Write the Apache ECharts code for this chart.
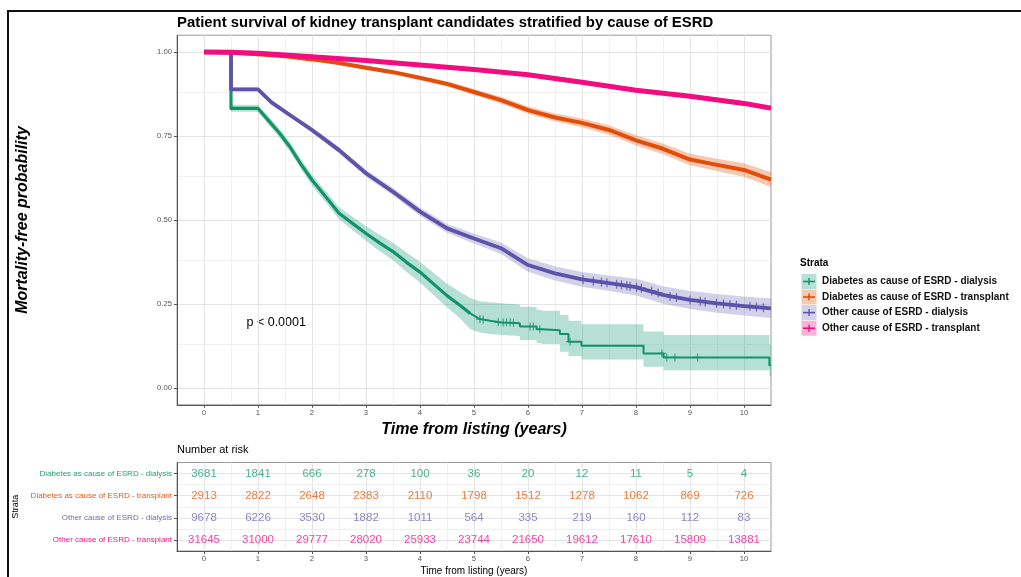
<!DOCTYPE html>
<html><head><meta charset="utf-8">
<script src="https://cdn.jsdelivr.net/npm/echarts@6/dist/echarts.min.js"></script>
<style>html,body{margin:0;padding:0;background:#fff}#c{width:1021px;height:577px}</style>
</head><body><div id="c"></div>
<script>
// ---------------- data ----------------
const strata = ['Diabetes as cause of ESRD - dialysis','Diabetes as cause of ESRD - transplant','Other cause of ESRD - dialysis','Other cause of ESRD - transplant'];
const years = [0,1,2,3,4,5,6,7,8,9,10];
const survTicks = [0,0.25,0.5,0.75,1];

// Diabetes - dialysis
const tDD  = [0,0.5,0.5,1.0,1.2,1.4,1.59,1.8,2.0,2.25,2.5,2.75,3.0,3.25,3.5,3.75,4.0,4.25,4.5,4.75,4.93,5.11,5.3,5.5,5.85,5.85,6.16,6.16,6.25,6.25,6.59,6.59,6.75,6.75,6.99,6.99,8.14,8.14,8.51,8.51,10.47,10.47,10.5];
const sDD  = [1,1,0.832,0.832,0.795,0.758,0.718,0.665,0.619,0.57,0.52,0.49,0.46,0.432,0.406,0.374,0.345,0.31,0.275,0.245,0.222,0.205,0.2,0.195,0.193,0.183,0.183,0.175,0.175,0.172,0.172,0.161,0.161,0.138,0.138,0.126,0.126,0.103,0.103,0.091,0.091,0.068,0.068];
const loDD = [1,1,0.822,0.822,0.783,0.745,0.704,0.65,0.603,0.553,0.502,0.47,0.438,0.408,0.38,0.345,0.314,0.277,0.24,0.206,0.175,0.165,0.161,0.158,0.155,0.143,0.143,0.134,0.134,0.131,0.131,0.108,0.108,0.095,0.095,0.085,0.085,0.063,0.063,0.053,0.053,0.035,0.035];
const hiDD = [1,1,0.843,0.843,0.807,0.771,0.732,0.68,0.635,0.587,0.538,0.51,0.482,0.456,0.432,0.403,0.376,0.343,0.31,0.285,0.268,0.258,0.255,0.252,0.248,0.242,0.242,0.233,0.233,0.23,0.23,0.217,0.217,0.2,0.2,0.19,0.19,0.168,0.168,0.158,0.158,0.13,0.13];
const cenDDt = [5.11,5.17,5.45,5.54,5.6,5.67,5.73,6.04,6.1,6.22,6.78,8.48,8.57,8.72,9.14];
const cenDDs = [0.205,0.204,0.196,0.195,0.195,0.195,0.194,0.183,0.183,0.175,0.138,0.103,0.091,0.091,0.091];

// Diabetes - transplant
const tDT  = [0,0.5,1,1.5,2,2.5,3,3.5,4,4.5,5,5.5,6,6.5,7,7.5,8,8.5,9,9.5,10,10.5];
const sDT  = [1,0.998,0.993,0.987,0.978,0.967,0.953,0.94,0.923,0.905,0.881,0.857,0.827,0.805,0.789,0.768,0.737,0.712,0.68,0.664,0.649,0.62];
const loDT = [1,0.997,0.991,0.984,0.974,0.962,0.947,0.934,0.916,0.897,0.872,0.847,0.816,0.793,0.776,0.754,0.722,0.696,0.663,0.646,0.629,0.598];
const hiDT = [1,0.999,0.995,0.99,0.982,0.972,0.959,0.946,0.93,0.913,0.89,0.867,0.838,0.817,0.802,0.782,0.752,0.728,0.697,0.682,0.669,0.642];

// Other - dialysis
const tOD  = [0,0.5,0.5,1.0,1.25,1.59,2.0,2.5,3.0,3.5,4.0,4.5,5.0,5.5,6.0,6.5,7.0,7.5,8.0,8.5,9.0,9.5,10.0,10.5];
const sOD  = [1,1,0.889,0.889,0.85,0.8125,0.768,0.708,0.639,0.584,0.525,0.475,0.445,0.416,0.366,0.341,0.323,0.312,0.3,0.277,0.262,0.252,0.244,0.237];
const loOD = [1,1,0.883,0.883,0.843,0.8055,0.76,0.699,0.629,0.573,0.513,0.462,0.43,0.399,0.346,0.32,0.301,0.289,0.275,0.251,0.235,0.224,0.216,0.208];
const hiOD = [1,1,0.895,0.895,0.857,0.8195,0.776,0.717,0.649,0.595,0.537,0.488,0.46,0.433,0.386,0.362,0.345,0.335,0.325,0.303,0.289,0.28,0.272,0.266];
const cenODt = [7.02,7.21,7.36,7.46,7.64,7.73,7.83,7.89,8.01,8.1,8.29,8.41,8.63,8.75,9.0,9.19,9.28,9.49,9.62,9.74,9.86,10.11,10.23,10.36];
const cenODs = [0.323,0.318,0.315,0.313,0.309,0.307,0.304,0.303,0.3,0.297,0.289,0.283,0.272,0.269,0.262,0.258,0.256,0.252,0.25,0.248,0.246,0.243,0.241,0.239];

// Other - transplant
const tOT  = [0,0.5,1,2,3,4,5,6,7,8,9,10,10.5];
const sOT  = [1,0.999,0.996,0.986,0.975,0.961,0.948,0.932,0.91,0.886,0.868,0.847,0.833];
const loOT = [1,0.998,0.995,0.984,0.972,0.958,0.945,0.928,0.906,0.881,0.862,0.84,0.825];
const hiOT = [1,1,0.997,0.988,0.978,0.964,0.951,0.936,0.914,0.891,0.874,0.854,0.841];

// Number at risk
const riskDD = [3681,1841,666,278,100,36,20,12,11,5,4];
const riskDT = [2913,2822,2648,2383,2110,1798,1512,1278,1062,869,726];
const riskOD = [9678,6226,3530,1882,1011,564,335,219,160,112,83];
const riskOT = [31645,31000,29777,28020,25933,23744,21650,19612,17610,15809,13881];

// ---------------- style ----------------
const FONT = "'Liberation Sans', Arial, sans-serif";
const lineColors = ['#11936a','#e34d07','#5d53ab','#f20c80'];
const bandColors = ['rgba(27,158,119,0.32)','rgba(230,85,13,0.32)','rgba(117,112,179,0.32)','rgba(240,20,128,0.32)'];
const tableColors = ['#1b9e77','#e55a12','#7068b8','#f0168a'];
const THIN_FROM = 4.93;
const plusPath = 'path://M4.3,0H5.7V4.3H10V5.7H5.7V10H4.3V5.7H0V4.3H4.3Z';

const curves = [
  {t:tDD,s:sDD,lo:loDD,hi:hiDD,w:3.2},
  {t:tDT,s:sDT,lo:loDT,hi:hiDT,w:4},
  {t:tOD,s:sOD,lo:loOD,hi:hiOD,w:3.8},
  {t:tOT,s:sOT,lo:loOT,hi:hiOT,w:5}
];
const risks = [riskDD,riskDT,riskOD,riskOT];

function zip(a,b){return a.map((v,i)=>[v,b[i]]);}

const series = [];

// grid lines (main)
const mainGrid = [];
for (let v=0; v<=10; v+=0.5) mainGrid.push({xAxis:v, lineStyle:{color: Number.isInteger(v)?'#e4e4e4':'#f0f0f0', width:1, type:'solid'}});
for (let v=0; v<=1.0001; v+=0.125) mainGrid.push({yAxis:v, lineStyle:{color: (Math.round(v*1000)%250===0)?'#e4e4e4':'#f0f0f0', width:1, type:'solid'}});
series.push({type:'line', xAxisIndex:0, yAxisIndex:0, data:[], silent:true, z:0,
  markLine:{silent:true, z:0, symbol:['none','none'], label:{show:false}, animation:false, data:mainGrid}});

// grid lines (table)
const tabGrid = [];
for (let v=0; v<=10; v+=0.5) tabGrid.push({xAxis:v, lineStyle:{color: Number.isInteger(v)?'#e4e4e4':'#f0f0f0', width:1, type:'solid'}});
for (let v=0; v<=3; v+=0.5) tabGrid.push({yAxis:v, lineStyle:{color: Number.isInteger(v)?'#e4e4e4':'#f0f0f0', width:1, type:'solid'}});
series.push({type:'line', xAxisIndex:1, yAxisIndex:1, data:[], silent:true, z:0,
  markLine:{silent:true, z:0, symbol:['none','none'], label:{show:false}, animation:false, data:tabGrid}});

// bands
curves.forEach((c,k)=>{
  series.push({type:'custom', xAxisIndex:0, yAxisIndex:0, z:1, silent:true, clip:true, data:[[0,0]],
    renderItem:(params, api)=>{
      const pts=[];
      for (let i=0;i<c.t.length;i++) pts.push(api.coord([c.t[i], c.hi[i]]));
      for (let i=c.t.length-1;i>=0;i--) pts.push(api.coord([c.t[i], c.lo[i]]));
      return {type:'polygon', shape:{points:pts}, style:{fill:bandColors[k]}};
    }});
});

// lines
curves.forEach((c,k)=>{
  const pts = zip(c.t, c.s);
  if (k===0) {
    const early = pts.filter(p=>p[0]<=THIN_FROM);
    const late = pts.filter(p=>p[0]>=THIN_FROM);
    series.push({type:'line', xAxisIndex:0, yAxisIndex:0, data:early, showSymbol:false, z:3+k, silent:true,
      lineStyle:{color:lineColors[k], width:c.w, join:'round'}});
    series.push({type:'line', xAxisIndex:0, yAxisIndex:0, data:late, showSymbol:false, z:3+k, silent:true,
      lineStyle:{color:lineColors[k], width:2}});
  } else {
    series.push({type:'line', xAxisIndex:0, yAxisIndex:0, data:pts, showSymbol:false, z:3+k, silent:true,
      lineStyle:{color:lineColors[k], width:c.w, join:'round'}});
  }
});

// censor marks
series.push({type:'scatter', xAxisIndex:0, yAxisIndex:0, data:zip(cenDDt,cenDDs), symbol:plusPath, symbolSize:8, z:3, silent:true, itemStyle:{color:lineColors[0]}});
series.push({type:'scatter', xAxisIndex:0, yAxisIndex:0, data:zip(cenODt,cenODs), symbol:plusPath, symbolSize:9, z:5, silent:true, itemStyle:{color:lineColors[2]}});

// risk table numbers
risks.forEach((r,k)=>{
  series.push({type:'scatter', xAxisIndex:1, yAxisIndex:1, z:5, silent:true,
    data: years.map((t,i)=>[t,k,r[i]]), symbolSize:1, itemStyle:{color:'rgba(0,0,0,0)'},
    label:{show:true, position:'inside', formatter:p=>String(p.value[2]), color:tableColors[k], fontSize:11.5, fontFamily:FONT}});
});

// legend graphics
const legendY = [281.5,297,312.6,328.2];
const graphic = [
  {type:'line', shape:{x1:8,y1:11,x2:1021,y2:11}, style:{stroke:'#111', lineWidth:2}},
  {type:'line', shape:{x1:8,y1:10,x2:8,y2:577}, style:{stroke:'#111', lineWidth:2}},
  {type:'text', x:800, y:263, style:{text:'Strata', font:'bold 10px '+FONT, fill:'#000', verticalAlign:'middle'}},
  {type:'text', x:246.5, y:323, style:{text:'p < 0.0001', font:'12.5px '+FONT, fill:'#000', verticalAlign:'middle'}},
  {type:'text', x:177, y:450, style:{text:'Number at risk', font:'11px '+FONT, fill:'#000', verticalAlign:'middle'}}
];
strata.forEach((name,k)=>{
  const cy = legendY[k];
  graphic.push({type:'rect', shape:{x:801.5,y:cy-7.5,width:15,height:15}, style:{fill:bandColors[k]}});
  graphic.push({type:'line', shape:{x1:803,y1:cy,x2:815,y2:cy}, style:{stroke:lineColors[k], lineWidth:1.6}});
  graphic.push({type:'line', shape:{x1:809,y1:cy-3.5,x2:809,y2:cy+3.5}, style:{stroke:lineColors[k], lineWidth:1.4}});
  graphic.push({type:'text', x:822, y:cy, style:{text:name, font:'bold 10px '+FONT, fill:'#111', verticalAlign:'middle'}});
});

const rich = {};
tableColors.forEach((c,k)=>{ rich['r'+k] = {color:c, fontSize:8, fontFamily:FONT}; });

const option = {
  animation:false,
  backgroundColor:'#fff',
  textStyle:{fontFamily:FONT},
  title:{text:'Patient survival of kidney transplant candidates stratified by cause of ESRD', left:177, top:15, padding:0,
    textStyle:{fontSize:14.9, fontWeight:'bold', color:'#000', fontFamily:FONT}},
  graphic: graphic,
  grid:[
    {left:177, top:35.2, width:594, height:369.6, show:true, borderColor:'#9a9a9a', borderWidth:1, backgroundColor:'transparent'},
    {left:177, top:462.5, width:594, height:89.5, show:true, borderColor:'#9a9a9a', borderWidth:1, backgroundColor:'transparent'}
  ],
  xAxis:[
    {type:'value', gridIndex:0, min:-0.5, max:10.5, splitLine:{show:false},
      axisLine:{show:true, onZero:false, lineStyle:{color:'#555', width:1}},
      axisTick:{show:true, customValues:years, length:3, lineStyle:{color:'#555'}},
      axisLabel:{customValues:years, fontSize:7.7, color:'#555', margin:4, fontFamily:FONT},
      name:'Time from listing (years)', nameLocation:'middle', nameGap:14,
      nameTextStyle:{fontSize:16, fontWeight:'bold', fontStyle:'italic', color:'#000', fontFamily:FONT}},
    {type:'value', gridIndex:1, min:-0.5, max:10.5, splitLine:{show:false},
      axisLine:{show:true, onZero:false, lineStyle:{color:'#555', width:1}},
      axisTick:{show:true, customValues:years, length:3, lineStyle:{color:'#555'}},
      axisLabel:{customValues:years, fontSize:7.7, color:'#555', margin:4, fontFamily:FONT},
      name:'Time from listing (years)', nameLocation:'middle', nameGap:15,
      nameTextStyle:{fontSize:10, color:'#000', fontFamily:FONT}}
  ],
  yAxis:[
    {type:'value', gridIndex:0, min:-0.05, max:1.05, splitLine:{show:false},
      axisLine:{show:true, onZero:false, lineStyle:{color:'#555', width:1}},
      axisTick:{show:true, customValues:survTicks, length:3, lineStyle:{color:'#555'}},
      axisLabel:{customValues:survTicks, formatter:v=>Number(v).toFixed(2), fontSize:7.7, color:'#555', margin:5, fontFamily:FONT},
      name:'Mortality-free probability', nameLocation:'middle', nameGap:146,
      nameTextStyle:{fontSize:16, fontWeight:'bold', fontStyle:'italic', color:'#000', fontFamily:FONT}},
    {type:'value', gridIndex:1, min:-0.5, max:3.5, inverse:true, splitLine:{show:false},
      axisLine:{show:true, onZero:false, lineStyle:{color:'#555', width:1}},
      axisTick:{show:true, customValues:[0,1,2,3], length:3, lineStyle:{color:'#555'}},
      axisLabel:{customValues:[0,1,2,3], formatter:v=>{const k=Math.round(Number(v)); return '{r'+k+'|'+strata[k]+'}';}, rich:rich, margin:5},
      name:'Strata', nameLocation:'middle', nameGap:150,
      nameTextStyle:{fontSize:9, color:'#000', fontFamily:FONT}}
  ],
  series: series
};

const chart = echarts.init(document.getElementById('c'), null, {renderer:'canvas'});
chart.setOption(option);
</script>
</body></html>
